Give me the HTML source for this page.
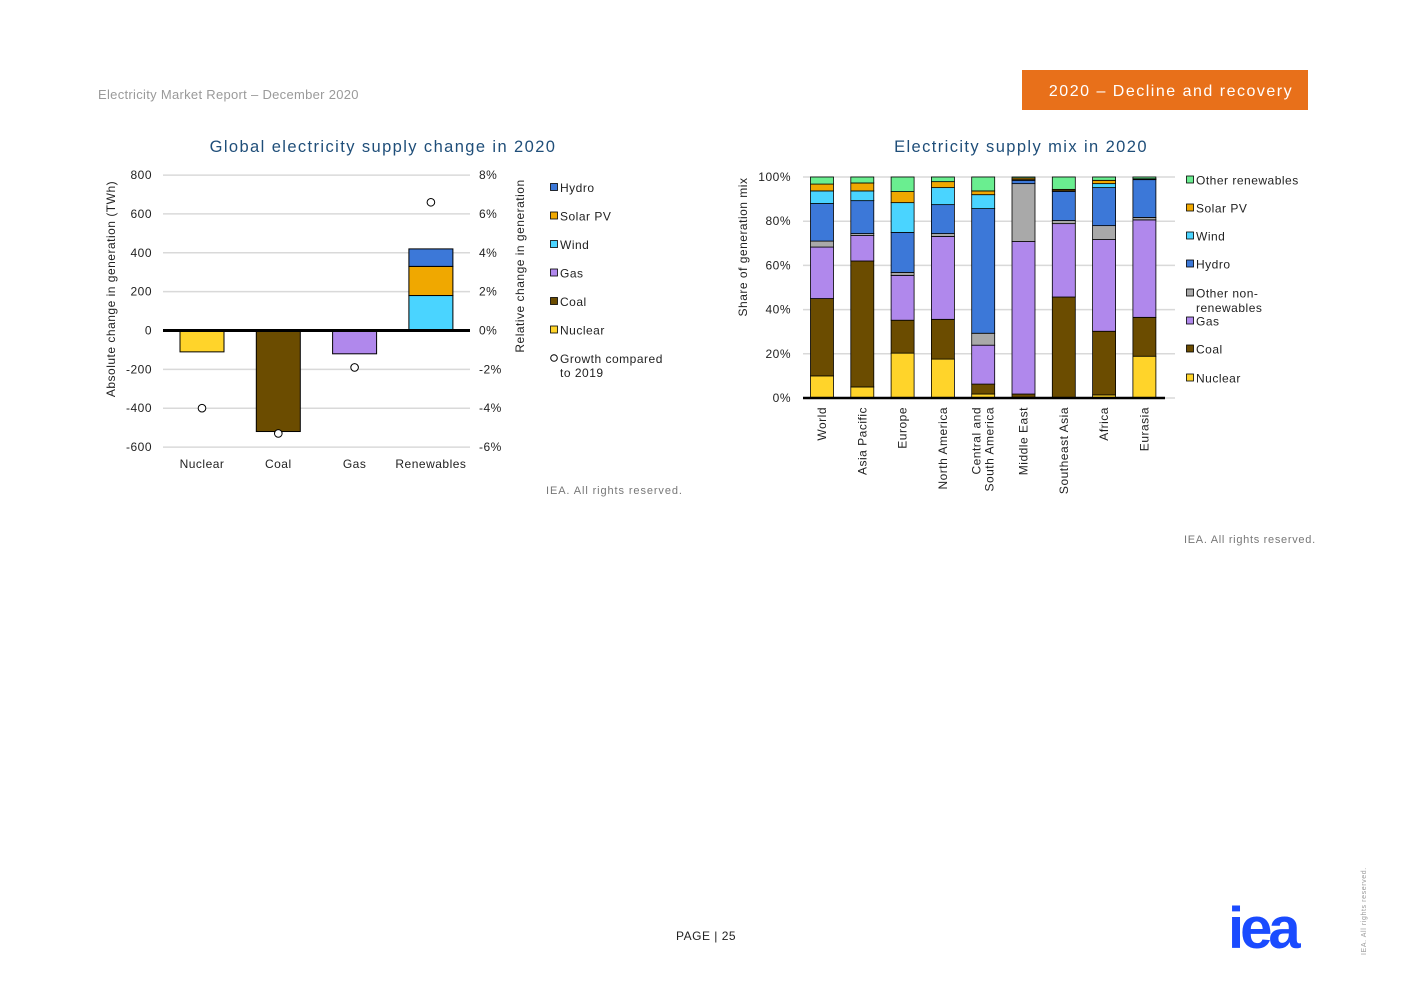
<!DOCTYPE html>
<html><head><meta charset="utf-8"><style>
html,body{margin:0;padding:0;background:#fff;}
body{width:1403px;height:992px;overflow:hidden;font-family:"Liberation Sans",sans-serif;}
svg text{font-family:"Liberation Sans",sans-serif;letter-spacing:0.5px;}
</style></head><body>
<svg id="page" width="1403" height="992" viewBox="0 0 1403 992">
<text x="98" y="99" font-size="13" fill="#9a9a9a" style="letter-spacing:0.3px">Electricity Market Report – December 2020</text>
<rect x="1022" y="70" width="286" height="40" fill="#E8701A"/>
<text x="1171" y="96" font-size="16" fill="#fff" text-anchor="middle" style="letter-spacing:1.5px">2020 – Decline and recovery</text>
<text x="383" y="152" font-size="16.5" fill="#1F4E79" text-anchor="middle" style="letter-spacing:1.4px">Global electricity supply change in 2020</text>
<text x="1021" y="152" font-size="16.5" fill="#1F4E79" text-anchor="middle" style="letter-spacing:1.4px">Electricity supply mix in 2020</text>
<g id="left"></g>
<g id="right"></g>
<text x="546" y="494" font-size="11" fill="#777" style="letter-spacing:0.9px">IEA. All rights reserved.</text>
<text x="1184" y="543" font-size="11" fill="#777" style="letter-spacing:0.7px">IEA. All rights reserved.</text>
<text x="676" y="940" font-size="12" fill="#222">PAGE | 25</text>
<text x="1228" y="948" font-size="58" font-weight="bold" fill="#1A4BFF" style="letter-spacing:-4px">iea</text>
<text transform="translate(1366,955) rotate(-90)" font-size="7" fill="#999" style="letter-spacing:0.6px">IEA. All rights reserved.</text>
</svg>
<script>
const NS="http://www.w3.org/2000/svg";
function mk(p,t,a){const e=document.createElementNS(NS,t);for(const k in a)e.setAttribute(k,a[k]);p.appendChild(e);return e;}
const COL={Nuclear:"#FFD42A",Coal:"#6B4C00",Gas:"#B088EC",Other:"#A9A9A9",Hydro:"#3C78D8",Wind:"#4AD4FF",Solar:"#F0A800",OtherRen:"#6AEE90"};

// Left chart data
const leftCats=["Nuclear","Coal","Gas","Renewables"];
const leftNuclear=[-110,0,0,0];
const leftCoal=[0,-520,0,0];
const leftGas=[0,0,-120,0];
const leftWind=[0,0,0,180];
const leftSolar=[0,0,0,150];
const leftHydro=[0,0,0,90];
const leftGrowth=[-4.0,-5.3,-1.9,6.6];
const leftTicks=[800,600,400,200,0,-200,-400,-600];
const rightTicksL=["8%","6%","4%","2%","0%","-2%","-4%","-6%"];

const L=document.getElementById("left");
const ly=v=>330.5-v*(272/1400);
const lyp=p=>ly(p*100);
const lx=i=>202+i*76.3;
leftTicks.forEach((t,i)=>{
  const g=mk(L,"line",{x1:163,x2:470,y1:ly(t),y2:ly(t),stroke:"#d9d9d9","stroke-width":1.5});
  
  const tx=mk(L,"text",{x:152,y:ly(t)+4,"font-size":12,fill:"#222","text-anchor":"end"});tx.textContent=t;
  
  const t2=mk(L,"text",{x:479,y:ly(t)+4,"font-size":12,fill:"#222"});t2.textContent=rightTicksL[i];
  
});
const leftSeries=[["Nuclear",leftNuclear],["Coal",leftCoal],["Gas",leftGas],["Wind",leftWind],["Solar",leftSolar],["Hydro",leftHydro]];
leftCats.forEach((c,i)=>{
  let pos=0,neg=0;
  leftSeries.forEach(([n,arr])=>{
    const v=arr[i];if(!v)return;
    let y0,y1;
    if(v>0){y0=pos;y1=pos+v;pos=y1;}else{y0=neg;y1=neg+v;neg=y1;}
    const r=mk(L,"rect",{x:lx(i)-22,y:Math.min(ly(y0),ly(y1)),width:44,height:Math.abs(ly(y1)-ly(y0)),fill:COL[n],stroke:"#000","stroke-width":1});
    
  });
  const tx=mk(L,"text",{x:lx(i),y:468,"font-size":12,fill:"#222","text-anchor":"middle"});tx.textContent=c;
  
});
const z=mk(L,"line",{x1:163,x2:470,y1:ly(0),y2:ly(0),stroke:"#000","stroke-width":3});

leftCats.forEach((c,i)=>{
  const d=mk(L,"circle",{cx:lx(i),cy:lyp(leftGrowth[i]),r:3.8,fill:"#fff",stroke:"#000","stroke-width":1});
  
});
let yt=mk(L,"text",{transform:"translate(115,289) rotate(-90)","font-size":12,fill:"#222","text-anchor":"middle"});yt.textContent="Absolute change in generation (TWh)";

yt=mk(L,"text",{transform:"translate(524,266) rotate(-90)","font-size":12,fill:"#222","text-anchor":"middle"});yt.textContent="Relative change in generation";

const leftLeg=[["Hydro","Hydro"],["Solar PV","Solar"],["Wind","Wind"],["Gas","Gas"],["Coal","Coal"],["Nuclear","Nuclear"]];
leftLeg.forEach(([lab,k],i)=>{
  const y=188+i*28.5;
  const r=mk(L,"rect",{x:550.5,y:y-4.5,width:7,height:7,fill:COL[k],stroke:"#000","stroke-width":0.8});
  
  const t=mk(L,"text",{x:560,y:y+4,"font-size":12,fill:"#222"});t.textContent=lab;
  
});
const lc=mk(L,"circle",{cx:554,cy:358,r:3.3,fill:"#fff",stroke:"#000","stroke-width":1});

let lt=mk(L,"text",{x:560,y:363,"font-size":12,fill:"#222"});lt.textContent="Growth compared";

lt=mk(L,"text",{x:560,y:377,"font-size":12,fill:"#222"});lt.textContent="to 2019";


// Right chart data
const regions=["World","Asia Pacific","Europe","North America","Central and|South America","Middle East","Southeast Asia","Africa","Eurasia"];
const mixNuclear=[10,5,20.3,17.6,1.8,0.3,0,1.4,18.9];
const mixCoal=[35,57,14.9,18,4.5,1.5,45.7,28.8,17.6];
const mixGas=[23.3,11.5,20.3,37.5,17.6,69,33.2,41.5,44.1];
const mixOther=[2.7,0.9,1.3,1.3,5.4,26.2,1.4,6.3,1.1];
const mixHydro=[17,14.9,18.1,13.1,56.4,1.5,13.2,17.2,17.1];
const mixWind=[5.7,4.4,13.5,7.7,6.3,0.3,0.3,1.8,0.2];
const mixSolar=[3.1,3.6,5,2.7,1.7,0.7,0.6,1.5,0.2];
const mixOtherRen=[3.2,2.7,6.6,2.1,6.3,0.5,5.6,1.5,0.8];
const mixTicks=[0,20,40,60,80,100];

const R=document.getElementById("right");
const ry=v=>398-v*2.21;
const rx=i=>822+i*40.3;
mixTicks.forEach(t=>{
  const g=mk(R,"line",{x1:803,x2:1175,y1:ry(t),y2:ry(t),stroke:"#d9d9d9","stroke-width":1.5});
  
  const tx=mk(R,"text",{x:791,y:ry(t)+4,"font-size":12,fill:"#222","text-anchor":"end"});tx.textContent=t+"%";
  
});
const mixSeries=[["Nuclear",mixNuclear],["Coal",mixCoal],["Gas",mixGas],["Other",mixOther],["Hydro",mixHydro],["Wind",mixWind],["Solar",mixSolar],["OtherRen",mixOtherRen]];
regions.forEach((reg,i)=>{
  let acc=0;
  mixSeries.forEach(([n,arr])=>{
    const v=arr[i];if(!v)return;
    const r=mk(R,"rect",{x:rx(i)-11.5,y:ry(acc+v),width:23,height:ry(acc)-ry(acc+v),fill:COL[n],stroke:"#000","stroke-width":0.8});
    
    acc+=v;
  });
  const parts=reg.split('|');
  parts.forEach((p,j)=>{
    const off=(j-(parts.length-1)/2)*13;
    const t=mk(R,"text",{transform:`translate(${rx(i)+4+off},407) rotate(-90)`,"font-size":12,fill:"#222","text-anchor":"end"});t.textContent=p;
    
  });
});
const ax=mk(R,"line",{x1:803,x2:1165,y1:ry(0),y2:ry(0),stroke:"#000","stroke-width":2.5});

yt=mk(R,"text",{transform:"translate(747,247) rotate(-90)","font-size":12,fill:"#222","text-anchor":"middle"});yt.textContent="Share of generation mix";

const rightLeg=[["Other renewables","OtherRen",180],["Solar PV","Solar",208],["Wind","Wind",236],["Hydro","Hydro",264],["Other non-","Other",293],["Gas","Gas",321],["Coal","Coal",349],["Nuclear","Nuclear",378]];
rightLeg.forEach(([lab,k,y])=>{
  const r=mk(R,"rect",{x:1186.5,y:y-4,width:7,height:7,fill:COL[k],stroke:"#000","stroke-width":0.8});
  
  const t=mk(R,"text",{x:1196,y:y+4.5,"font-size":12,fill:"#222"});t.textContent=lab;
  
});
lt=mk(R,"text",{x:1196,y:312,"font-size":12,fill:"#222"});lt.textContent="renewables";

</script>
</body></html>
